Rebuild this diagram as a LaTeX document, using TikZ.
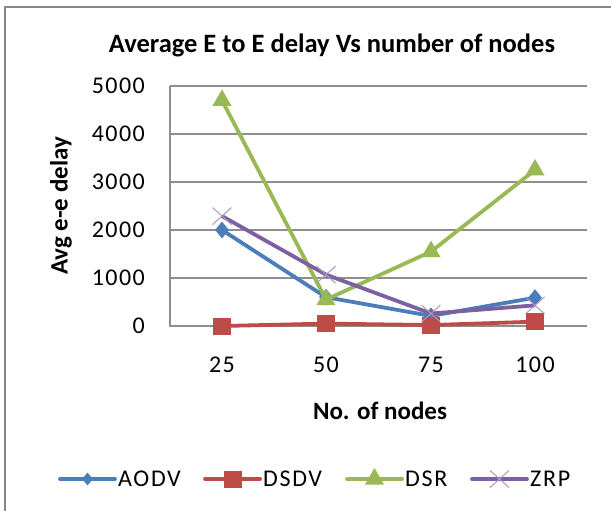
\documentclass[tikz,border=0pt]{standalone}
\usepackage{fontspec}
\setmainfont{Carlito}
\usetikzlibrary{shapes.geometric,shapes.misc}
\definecolor{aodvc}{HTML}{4A7EBB}
\definecolor{dsdvc}{HTML}{BE4B48}
\definecolor{dsrc}{HTML}{98B954}
\definecolor{zrpc}{HTML}{7D60A0}
\definecolor{framec}{HTML}{888888}
\definecolor{gridc}{HTML}{8E8E8E}
\begin{document}
\begin{tikzpicture}[x=1pt,y=-1pt,
  ticklbl/.style={font=\fontsize{24}{28}\selectfont\addfontfeatures{LetterSpace=6}, inner sep=0pt},
  axtitle/.style={font=\bfseries\fontsize{25}{30}\selectfont, inner sep=0pt},
  gridline/.style={gridc, line width=1.2pt},
  serie/.style={line width=3.8pt, line join=round},
  mkA/.style={diamond, fill=aodvc, inner sep=0pt, minimum width=14pt, minimum height=17pt},
  mkD/.style={rectangle, fill=dsdvc, inner sep=0pt, minimum width=18pt, minimum height=17pt},
  mkR/.style={regular polygon, regular polygon sides=3, fill=dsrc, inner sep=0pt, minimum size=22pt},
  mkZ/.style={cross out, draw=zrpc!65, line width=1pt, inner sep=0pt, minimum width=18pt, minimum height=16pt},
  legA/.style={mkA, minimum width=11pt, minimum height=13pt},
  legD/.style={mkD},
  legR/.style={mkR},
  legZ/.style={mkZ},
  legtxt/.style={font=\fontsize{24}{28}\selectfont\addfontfeatures{LetterSpace=7}, inner sep=0pt, anchor=west}
]
\useasboundingbox (0,0) rectangle (611,511);
\clip (0,0) rectangle (611,511);
\fill[white] (0,0) rectangle (611,511);
% chart frame (runs off the right and bottom edges)
\draw[framec, line width=2pt] (5,7) rectangle (650,560);

% title
\node[font=\bfseries\fontsize{26.5}{32}\selectfont, inner sep=0pt] (title) at (332,45) {Average E to E delay Vs number of nodes};

% gridlines and axes (0 at y=326, 48 units per 1000)
\foreach \v in {1,...,5}{
  \draw[gridline] (170,{326-48*\v}) -- (587,{326-48*\v});
}
\coordinate (ybot) at (170,326);
\coordinate (ytop) at (170,86);
\coordinate (xend) at (587,326);
\draw[gridline] (ytop) -- (ybot) -- (xend);

% tick labels
\foreach \v/\t in {0/0,1/1000,2/2000,3/3000,4/4000,5/5000}{
  \node[ticklbl, anchor=east] (yl\v) at (145,{326-48*\v}) {\t};
}
\foreach \x/\t in {222/25,326/50,431/75,535/100}{
  \node[ticklbl] (xl\t) at (\x,365) {\t};
}

% axis titles
\node[axtitle, rotate=90] (ytitle) at (61,206) {Avg e-e delay};
\node[axtitle] (xtitle) at (380,411) {No. of nodes};

% data points
\coordinate (a1) at (222,{326-0.048*2000});
\coordinate (a2) at (326,{326-0.048*600});
\coordinate (a3) at (431,{326-0.048*210});
\coordinate (a4) at (535,{326-0.048*590});
\coordinate (d1) at (222,{326-0.048*0});
\coordinate (d2) at (326,{326-0.048*50});
\coordinate (d3) at (431,{326-0.048*20});
\coordinate (d4) at (535,{326-0.048*90});
\coordinate (r1) at (222,{326-0.048*4700});
\coordinate (r2) at (326,{326-0.048*550});
\coordinate (r3) at (431,{326-0.048*1550});
\coordinate (r4) at (535,{326-0.048*3250});
\coordinate (z1) at (222,{326-0.048*2290});
\coordinate (z2) at (326,{326-0.048*1070});
\coordinate (z3) at (431,{326-0.048*260});
\coordinate (z4) at (535,{326-0.048*430});

% AODV
\draw[serie, aodvc] (a1) -- (a2) -- (a3) -- (a4);
\foreach \i in {1,...,4}{\node[mkA] (ma\i) at (a\i) {};}
% DSDV
\draw[serie, dsdvc] (d1) -- (d2) -- (d3) -- (d4);
\foreach \i in {1,...,4}{\node[mkD] (md\i) at (d\i) {};}
% DSR
\draw[serie, dsrc] (r1) -- (r2) -- (r3) -- (r4);
\foreach \i in {1,...,4}{\node[mkR] (mr\i) at (r\i) {};}
% ZRP
\draw[serie, zrpc] (z1) -- (z2) -- (z3) -- (z4);
\foreach \i in {1,...,4}{\node[mkZ] (mz\i) at (z\i) {};}

% legend
\foreach \k/\x/\c/\m/\t in {A/60/aodvc/legA/AODV, D/205/dsdvc/legD/DSDV, R/347/dsrc/legR/DSR, Z/472/zrpc/legZ/ZRP}{
  \coordinate (l\k s) at (\x,479);
  \coordinate (l\k e) at (\x+55,479);
  \draw[serie, \c, line cap=round] (l\k s) -- (l\k e);
  \node[\m] (l\k m) at (\x+27.5,479) {};
  \node[legtxt] (l\k t) at (\x+58,479) {\t};
}
\end{tikzpicture}
\end{document}
